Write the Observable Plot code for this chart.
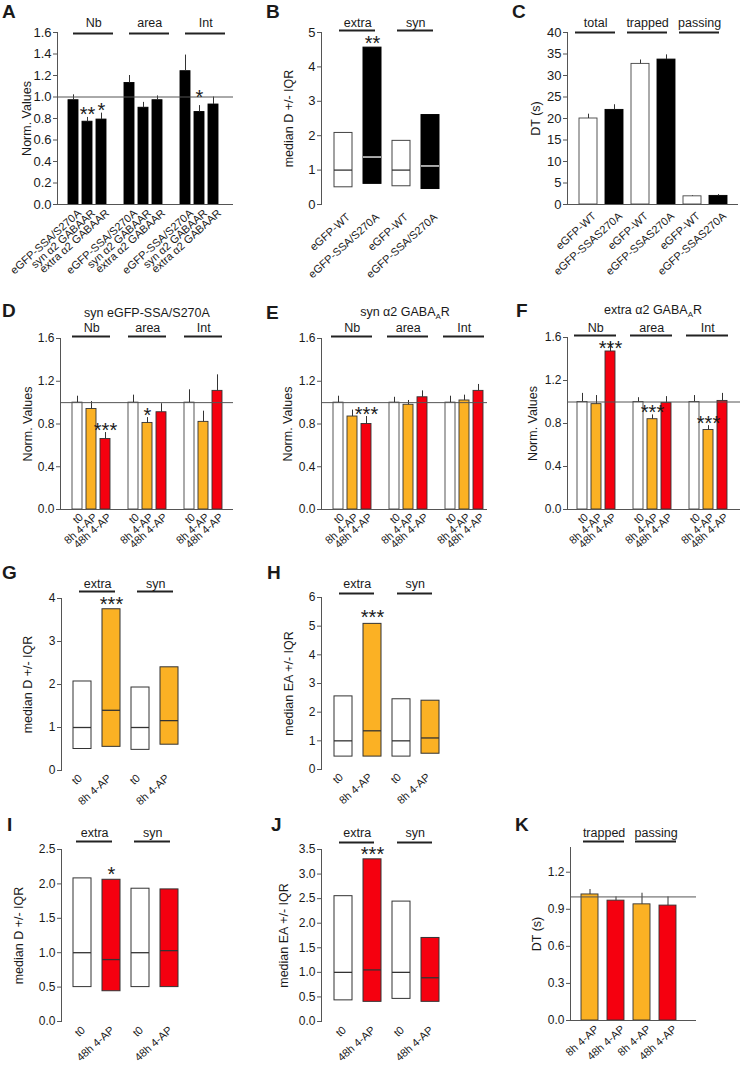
<!DOCTYPE html>
<html><head><meta charset="utf-8">
<script src="https://cdn.jsdelivr.net/npm/d3@7"></script>
<script src="https://cdn.jsdelivr.net/npm/@observablehq/plot@0.6"></script>
<style>
body{margin:0;background:#fff;}
#fig{position:relative;width:740px;height:1067px;overflow:hidden;font-family:"Liberation Sans",Arial,sans-serif;color:#1a1a1a;background:#fff;}
.panel{position:absolute;}
.letter{position:absolute;font-weight:bold;font-size:19px;line-height:19px;}
.title{position:absolute;width:240px;text-align:center;font-size:12.5px;line-height:14px;white-space:nowrap;}
.title .sub{font-size:8px;position:relative;top:3px;}
</style></head><body><div id="fig"></div>
<script>
// ---------------- Panel A ----------------
const aGroups = ["Nb", "area", "Int"];
const aConds = ["eGFP-SSA/S270A", "syn α2 GABAAR", "extra α2 GABAAR"];
const aValues = [0.97, 0.77, 0.79, 1.13, 0.90, 0.97, 1.24, 0.86, 0.93];
const aErrors = [0.05, 0.04, 0.06, 0.07, 0.05, 0.04, 0.15, 0.06, 0.07];
const aStars = ["", "**", "*", "", "", "", "", "*", ""];
const aTicks = [0, 0.2, 0.4, 0.6, 0.8, 1.0, 1.2, 1.4, 1.6];

// ---------------- Panel B ----------------
const bGroups = ["extra", "syn"];
const bConds = ["eGFP-WT", "eGFP-SSA/S270A"];
const bQ1 = [0.50, 0.60, 0.53, 0.45];
const bMedian = [1.00, 1.38, 1.00, 1.12];
const bQ3 = [2.08, 4.56, 1.85, 2.60];
const bStars = ["", "**", "", ""];
const bTicks = [0, 1, 2, 3, 4, 5];

// ---------------- Panel C ----------------
const cGroups = ["total", "trapped", "passing"];
const cConds = ["eGFP-WT", "eGFP-SSAS270A"];
const cValues = [20.0, 22.0, 32.7, 33.7, 1.9, 2.0];
const cErrors = [1.0, 1.2, 0.9, 1.1, 0.15, 0.3];
const cTicks = [0, 5, 10, 15, 20, 25, 30, 35, 40];

// ---------------- Panels D, E, F ----------------
const defGroups = ["Nb", "area", "Int"];
const defConds = ["t0", "8h 4-AP", "48h 4-AP"];
const defTicks = [0, 0.4, 0.8, 1.2, 1.6];
const dValues = [1.00, 0.94, 0.66, 1.00, 0.81, 0.91, 1.00, 0.82, 1.11];
const dErrors = [0.06, 0.07, 0.06, 0.07, 0.05, 0.08, 0.12, 0.10, 0.15];
const dStars = ["", "", "***", "", "*", "", "", "", ""];
const eValues = [1.00, 0.87, 0.80, 1.00, 0.98, 1.05, 1.00, 1.02, 1.11];
const eErrors = [0.06, 0.06, 0.07, 0.05, 0.04, 0.06, 0.06, 0.05, 0.06];
const eStars = ["", "", "***", "", "", "", "", "", ""];
const fValues = [1.00, 0.98, 1.47, 1.00, 0.84, 0.99, 1.00, 0.74, 1.01];
const fErrors = [0.08, 0.08, 0.08, 0.04, 0.04, 0.06, 0.06, 0.04, 0.07];
const fStars = ["", "", "***", "", "***", "", "", "***", ""];

// ---------------- Panels G, H ----------------
const ghGroups = ["extra", "syn"];
const ghConds = ["t0", "8h 4-AP"];
const gQ1 = [0.50, 0.55, 0.48, 0.60];
const gMedian = [1.00, 1.40, 1.00, 1.16];
const gQ3 = [2.07, 3.75, 1.93, 2.40];
const gStars = ["", "***", "", ""];
const gTicks = [0, 1, 2, 3, 4];
const hQ1 = [0.45, 0.45, 0.45, 0.55];
const hMedian = [1.00, 1.35, 1.00, 1.10];
const hQ3 = [2.55, 5.08, 2.45, 2.40];
const hStars = ["", "***", "", ""];
const hTicks = [0, 1, 2, 3, 4, 5, 6];

// ---------------- Panels I, J ----------------
const ijGroups = ["extra", "syn"];
const ijConds = ["t0", "48h 4-AP"];
const iQ1 = [0.50, 0.44, 0.50, 0.50];
const iMedian = [1.00, 0.90, 1.00, 1.03];
const iQ3 = [2.08, 2.06, 1.93, 1.92];
const iStars = ["", "*", "", ""];
const iTicks = [0, 0.5, 1.0, 1.5, 2.0, 2.5];
const jQ1 = [0.43, 0.40, 0.46, 0.40];
const jMedian = [1.00, 1.05, 1.00, 0.89];
const jQ3 = [2.55, 3.30, 2.44, 1.70];
const jStars = ["", "***", "", ""];
const jTicks = [0, 0.5, 1.0, 1.5, 2.0, 2.5, 3.0, 3.5];

// ---------------- Panel K ----------------
const kGroups = ["trapped", "passing"];
const kConds = ["8h 4-AP", "48h 4-AP"];
const kValues = [1.02, 0.97, 0.94, 0.93];
const kErrors = [0.04, 0.03, 0.09, 0.07];
const kTicks = [0, 0.3, 0.6, 0.9, 1.2];

// ---------------- style ----------------
const FONT = '"Liberation Sans", Arial, Helvetica, sans-serif';
const INK = "#1a1a1a";
const AXIS = "#555";
const ORANGE = "#fbb124";
const RED = "#f5000f";
const fig = document.getElementById("fig");

function bandOpts(n, x0, x1, c0, s, bw) {
  const pi = 1 - bw / s;
  const po = Math.max(0, ((x1 - x0) / s - (n - pi)) / 2);
  const extra = (x1 - x0) - s * (n - pi);
  const align = extra > 0 ? Math.min(1, Math.max(0, (c0 - bw / 2 - x0) / extra)) : 0.5;
  return {paddingInner: pi, paddingOuter: po, align};
}

function buildPanel(kind, D, L) {
  const nC = D.conds.length;
  const keys = [], rows = [], groupRows = [];
  D.groups.forEach((g, gi) => {
    if (gi > 0 && L.gap) keys.push("gap" + gi);
    const gk = [];
    D.conds.forEach((c, ci) => {
      const i = gi * nC + ci;
      const key = g + "|" + c;
      keys.push(key); gk.push(key);
      const r = {key, ci, i, star: D.stars ? D.stars[i] : ""};
      if (kind === "bar") { r.value = D.values[i]; r.err = D.errors[i]; r.top = r.value + r.err; }
      else { r.q1 = D.q1[i]; r.med = D.median[i]; r.q3 = D.q3[i]; r.top = r.q3; }
      rows.push(r);
    });
    groupRows.push({name: g, first: gk[0], last: gk[gk.length - 1], y: D.yDomain[1]});
  });
  const marks = [];
  marks.push(Plot.frame({anchor: "left", stroke: AXIS}));
  if (kind === "bar") {
    marks.push(Plot.barY(rows, {x: "key", y: "value", fill: r => D.fills[r.ci], stroke: r => D.strokes[r.ci], strokeWidth: 0.9}));
    marks.push(Plot.ruleX(rows, {x: "key", y1: "value", y2: "top", stroke: "#333", strokeWidth: 1}));
    marks.push(Plot.ruleY([0], {stroke: AXIS}));
    if (D.ref != null) marks.push(Plot.ruleY([D.ref], {stroke: "#555", strokeWidth: 1}));
  } else {
    marks.push(Plot.barY(rows, {x: "key", y1: "q1", y2: "q3", fill: r => D.fills[r.ci], stroke: r => D.strokes[r.ci], strokeWidth: 1}));
    marks.push(Plot.tickY(rows, {x: "key", y: "med", stroke: r => D.medStrokes[r.ci], strokeWidth: 1.3}));
  }
  const shift = L.starShift || {};
  const starRows = rows.filter(r => r.star);
  marks.push(Plot.text(starRows.filter(r => !(r.i in shift)), {x: "key", y: "top", text: "star", fontSize: 20, dy: L.starDy, fill: INK}));
  for (const [idx, extra] of Object.entries(shift)) {
    marks.push(Plot.text(starRows.filter(r => r.i === +idx), {x: "key", y: "top", text: "star", fontSize: 20, dy: L.starDy + extra, fill: INK}));
  }
  marks.push(Plot.ruleY(groupRows, {x1: "first", x2: "last", y: "y", dy: L.lineDy, insetLeft: L.inL, insetRight: L.inR, stroke: "#222", strokeWidth: 1.8}));
  marks.push(Plot.text(groupRows, {x: "first", y: "y", text: "name", fontSize: 12.5, fill: INK,
    dx: (nC - 1) / 2 * L.s + (L.inL - L.inR) / 2, dy: L.lineDy + L.labelDy}));
  marks.push(Plot.axisY({ticks: D.yTicks, tickFormat: D.yFormat, tickSize: 4, tickPadding: 2, fontSize: L.tickFont,
    label: null, stroke: AXIS}));
  marks.push(Plot.text([D.yLabel], {frameAnchor: "left", rotate: -90, dx: L.labelX - L.x0, text: d => d,
    fontSize: 12.5, fill: INK, lineAnchor: "middle", textAnchor: "middle"}));
  marks.push(Plot.axisX({ticks: rows.map(r => r.key), tickFormat: k => k.split("|")[1], tickRotate: -42,
    tickSize: 0, tickPadding: L.xPad, dx: L.xDx, fontSize: 11, label: null}));
  const svg = Plot.plot({
    width: L.width, height: L.height,
    marginLeft: L.x0 - L.left, marginRight: L.left + L.width - L.x1,
    marginTop: L.y0 - L.top, marginBottom: L.top + L.height - L.y1,
    style: {fontFamily: FONT, color: INK, background: "transparent", overflow: "visible"},
    x: {type: "band", domain: keys, ...bandOpts(keys.length, L.x0, L.x1, L.c0, L.s, L.bw)},
    y: {domain: D.yDomain},
    color: {type: "identity"},
    marks
  });
  const div = document.createElement("div");
  div.className = "panel";
  div.style.left = L.left + "px"; div.style.top = L.top + "px";
  div.appendChild(svg);
  fig.appendChild(div);
}

const f1 = d3.format(".1f"), f0 = d3.format("d");
const BW = ["white", "black"], BWs = ["#444", "#000"];
const WOR = ["white", ORANGE, RED], WORs = ["#444", "#333", "#333"];
const WO = ["white", ORANGE], WR = ["white", RED], DK = ["#333", "#333"];

buildPanel("bar", {groups: aGroups, conds: aConds, values: aValues, errors: aErrors, stars: aStars,
  fills: ["black", "black", "black"], strokes: ["#000", "#000", "#000"], ref: 1,
  yDomain: [0, 1.6], yTicks: aTicks, yFormat: f1, yLabel: "Norm. Values"},
  {left: 0, top: 0, width: 245, height: 270, x0: 57, x1: 233, y0: 32, y1: 204, c0: 72, s: 14.2, bw: 10, gap: true,
   tickFont: 13, labelX: 26, starDy: -3, starShift: {7: -5}, lineDy: 1, labelDy: -11, inL: 5, inR: -7, xPad: 7, xDx: 6});

buildPanel("box", {groups: bGroups, conds: bConds, q1: bQ1, median: bMedian, q3: bQ3, stars: bStars,
  fills: BW, strokes: BWs, medStrokes: ["#333", "white"],
  yDomain: [0, 5], yTicks: bTicks, yFormat: f0, yLabel: "median D +/- IQR"},
  {left: 245, top: 0, width: 245, height: 270, x0: 321, x1: 451, y0: 32, y1: 204, c0: 342, s: 29.5, bw: 18,
   tickFont: 13, labelX: 288, starDy: -4, lineDy: -2, labelDy: -8, inL: 5, inR: 6, xPad: 11, xDx: 5});

buildPanel("bar", {groups: cGroups, conds: cConds, values: cValues, errors: cErrors, stars: null,
  fills: BW, strokes: BWs, ref: null,
  yDomain: [0, 40], yTicks: cTicks, yFormat: f0, yLabel: "DT (s)"},
  {left: 490, top: 0, width: 250, height: 270, x0: 567, x1: 738, y0: 32, y1: 204, c0: 587, s: 26.2, bw: 18,
   tickFont: 13, labelX: 535, starDy: -2, lineDy: 0, labelDy: -10, inL: -4, inR: 8, xPad: 10, xDx: 6});

buildPanel("bar", {groups: defGroups, conds: defConds, values: dValues, errors: dErrors, stars: dStars,
  fills: WOR, strokes: WORs, ref: 1, yDomain: [0, 1.6], yTicks: defTicks, yFormat: f1, yLabel: "Norm. Values"},
  {left: 0, top: 270, width: 245, height: 260, x0: 60, x1: 233, y0: 338, y1: 509, c0: 75, s: 14.3, bw: 10, gap: true,
   tickFont: 12, labelX: 27, starDy: -2, lineDy: -2, labelDy: -9, inL: 0, inR: 0, xPad: 6, xDx: 4});

buildPanel("bar", {groups: defGroups, conds: defConds, values: eValues, errors: eErrors, stars: eStars,
  fills: WOR, strokes: WORs, ref: 1, yDomain: [0, 1.6], yTicks: defTicks, yFormat: f1, yLabel: "Norm. Values"},
  {left: 245, top: 270, width: 245, height: 260, x0: 321, x1: 487, y0: 338, y1: 509, c0: 336, s: 14.2, bw: 10, gap: true,
   tickFont: 12, labelX: 287, starDy: -2, lineDy: -2, labelDy: -9, inL: -2, inR: -1, xPad: 6, xDx: 4});

buildPanel("bar", {groups: defGroups, conds: defConds, values: fValues, errors: fErrors, stars: fStars,
  fills: WOR, strokes: WORs, ref: 1, yDomain: [0, 1.6], yTicks: defTicks, yFormat: f1, yLabel: "Norm. Values"},
  {left: 490, top: 270, width: 250, height: 260, x0: 567, x1: 740, y0: 337, y1: 509, c0: 580.5, s: 14.25, bw: 10, gap: true,
   tickFont: 12, labelX: 532, starDy: -2, starShift: {2: 8}, lineDy: -2, labelDy: -8, inL: -3, inR: -1, xPad: 6, xDx: 4});

buildPanel("box", {groups: ghGroups, conds: ghConds, q1: gQ1, median: gMedian, q3: gQ3, stars: gStars,
  fills: WO, strokes: DK, medStrokes: DK, yDomain: [0, 4], yTicks: gTicks, yFormat: f0, yLabel: "median D +/- IQR"},
  {left: 0, top: 530, width: 245, height: 270, x0: 61, x1: 189, y0: 598, y1: 770, c0: 81, s: 29.3, bw: 18,
   tickFont: 12, labelX: 27, starDy: -5, lineDy: -7, labelDy: -8, inL: 6, inR: 5, xPad: 6, xDx: -2});

buildPanel("box", {groups: ghGroups, conds: ghConds, q1: hQ1, median: hMedian, q3: hQ3, stars: hStars,
  fills: WO, strokes: DK, medStrokes: DK, yDomain: [0, 6], yTicks: hTicks, yFormat: f0, yLabel: "median EA +/- IQR"},
  {left: 245, top: 530, width: 245, height: 270, x0: 321, x1: 451, y0: 597, y1: 769, c0: 342, s: 29.5, bw: 18,
   tickFont: 12, labelX: 288, starDy: -6, lineDy: -4, labelDy: -10, inL: 5, inR: 7, xPad: 6, xDx: -2});

buildPanel("box", {groups: ijGroups, conds: ijConds, q1: iQ1, median: iMedian, q3: iQ3, stars: iStars,
  fills: WR, strokes: DK, medStrokes: DK, yDomain: [0, 2.5], yTicks: iTicks, yFormat: f1, yLabel: "median D +/- IQR"},
  {left: 0, top: 800, width: 245, height: 267, x0: 61, x1: 189, y0: 849, y1: 1021, c0: 81, s: 29.3, bw: 18,
   tickFont: 12, labelX: 18, starDy: -5, lineDy: -8, labelDy: -9, inL: 3, inR: 8, xPad: 7, xDx: 1});

buildPanel("box", {groups: ijGroups, conds: ijConds, q1: jQ1, median: jMedian, q3: jQ3, stars: jStars,
  fills: WR, strokes: DK, medStrokes: DK, yDomain: [0, 3.5], yTicks: jTicks, yFormat: f1, yLabel: "median EA +/- IQR"},
  {left: 245, top: 800, width: 245, height: 267, x0: 321, x1: 451, y0: 849, y1: 1021, c0: 342, s: 29.5, bw: 18,
   tickFont: 12, labelX: 283, starDy: -5, lineDy: -7, labelDy: -10, inL: 5, inR: 7, xPad: 7, xDx: 1});

buildPanel("bar", {groups: kGroups, conds: kConds, values: kValues, errors: kErrors, stars: null,
  fills: [ORANGE, RED], strokes: DK, ref: 1, yDomain: [0, 1.4], yTicks: kTicks, yFormat: f1, yLabel: "DT (s)"},
  {left: 490, top: 800, width: 250, height: 267, x0: 570, x1: 696, y0: 847, y1: 1020, c0: 589.5, s: 26.2, bw: 17.5,
   tickFont: 12, labelX: 536, starDy: -2, lineDy: -6, labelDy: -9, inL: 2, inR: 0, xPad: 7, xDx: 7});

// panel letters
const letters = [["A", 2, 2], ["B", 266, 2], ["C", 512, 2], ["D", 2, 301], ["E", 266, 303], ["F", 516, 301],
  ["G", 2, 563], ["H", 267, 563], ["I", 7, 815], ["J", 271, 815], ["K", 515, 815]];
for (const [t, x, y] of letters) {
  const d = document.createElement("div");
  d.className = "letter"; d.textContent = t;
  d.style.left = x + "px"; d.style.top = y + "px";
  fig.appendChild(d);
}
// panel titles (row 2)
const titles = [["syn eGFP-SSA/S270A", 147, 313], ["syn α2 GABA<span class='sub'>A</span>R", 405, 312],
  ["extra α2 GABA<span class='sub'>A</span>R", 653, 310]];
for (const [t, cx, cy] of titles) {
  const d = document.createElement("div");
  d.className = "title"; d.innerHTML = t;
  d.style.left = (cx - 120) + "px"; d.style.top = (cy - 7) + "px";
  fig.appendChild(d);
}
</script></body></html>
